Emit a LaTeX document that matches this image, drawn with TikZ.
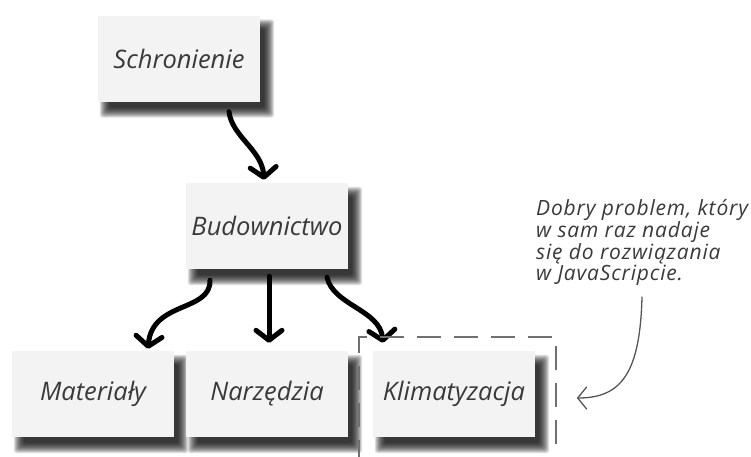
\documentclass[tikz,border=0pt]{standalone}
\usepackage{fontspec}
\newfontfamily\hand{Open Sans}
\usetikzlibrary{arrows.meta,calc}
\pgfdeclarelayer{bg}
\pgfsetlayers{bg,main}
\definecolor{boxfill}{HTML}{F3F3F3}
\definecolor{ink}{HTML}{3A3A3A}
\definecolor{dashc}{HTML}{707070}
\definecolor{notec}{HTML}{555555}
\tikzset{
  box/.style={fill=boxfill, minimum width=162pt, minimum height=86pt, inner sep=0pt,
    font=\hand\itshape\fontsize{25.5}{30}\selectfont, text=ink},
  bigarrow/.style={line width=5pt, line cap=round, line join=round,
    -{Straight Barb[length=10pt,width=26pt,round]}},
  notearrow/.style={line width=1.3pt, notec, line cap=round,
    -{Straight Barb[length=9pt,width=22pt,round]}},
  dashbox/.style={dashc, line width=1.6pt, dash pattern=on 24pt off 13pt},
  notetext/.style={font=\hand\itshape\addfontfeature{LetterSpace=4}\fontsize{21}{17.5}\selectfont,
    text=ink, align=left, inner sep=0pt, anchor=north west}
}
\newcommand\fuzzyshadow[1]{%
  \foreach \e in {6,5,...,-4}{%
    \fill[black,opacity=0.13,rounded corners=3pt]
      ($(#1.north west)+(8-\e,10-\e)$) rectangle ($(#1.south east)+(8+\e,10+\e)$);
  }}
\begin{document}
\begin{tikzpicture}[x=1pt,y=-1pt]
\useasboundingbox (0,0) rectangle (751,456);

\node[box] (s) at (179,58.5) {Schronienie};
\node[box] (b) at (267,226) {Budownictwo};
\node[box] (m) at (93,394) {Materiały};
\node[box] (n) at (267,394) {Narzędzia};
\node[box] (k) at (454,394) {Klimatyzacja};

\begin{pgfonlayer}{bg}
  \fuzzyshadow{s}
  \fuzzyshadow{b}
  \fuzzyshadow{m}
  \fuzzyshadow{n}
  \fuzzyshadow{k}
\end{pgfonlayer}

% connectors
\draw[bigarrow] ([xshift=50pt,yshift=-10pt]s.south)
  .. controls +(3,25) and +(-2,-30) .. ([xshift=-3pt,yshift=3pt]b.north);
\draw[bigarrow] ([xshift=-57pt,yshift=-11pt]b.south)
  .. controls +(1,32) and +(4,-48) .. ([xshift=55pt,yshift=2pt]m.north);
\draw[bigarrow] ([xshift=2pt,yshift=-7pt]b.south) -- ([xshift=2pt,yshift=8pt]n.north);
\draw[bigarrow] ([xshift=60pt,yshift=-8pt]b.south)
  .. controls +(6,28) and +(-3,-33) .. ([xshift=-71pt,yshift=8pt]k.north);

% dashed frame
\draw[dashbox] (359,464) -- (359,337) -- (556,337) -- (556,464);

% note
\node[notetext] (note) at (536,199) {Dobry problem, który\\w sam raz nadaje\\się do rozwiązania\\w JavaScripcie.};
\coordinate (tip) at (577,398);
\draw[notearrow] ([xshift=106pt,yshift=-98pt]note.north west)
  .. controls +(-2,75) and +(45,0) .. (tip);
\end{tikzpicture}
\end{document}
